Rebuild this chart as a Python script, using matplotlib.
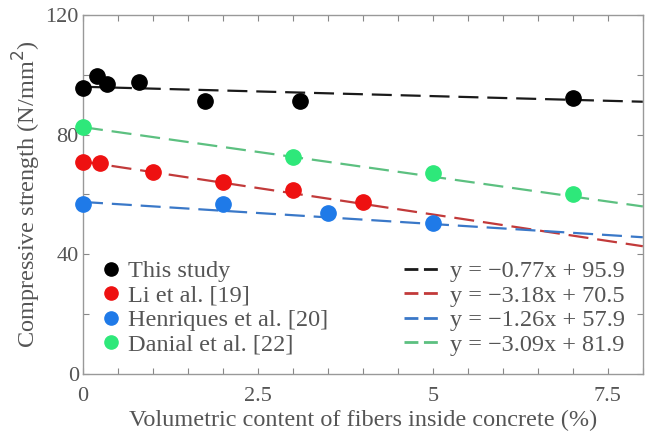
import matplotlib
matplotlib.use("Agg")
import matplotlib.pyplot as plt
from matplotlib.lines import Line2D
import numpy as np

plt.rcParams['font.family'] = ['Liberation Serif', 'DejaVu Serif']

# data
this_x = [0.0, 0.2, 0.35, 0.8, 1.75, 3.1, 7.0]
this_y = [95.5, 99.5, 96.8, 97.5, 91.1, 91.1, 92.1]
li_x = [0.0, 0.25, 1.0, 2.0, 3.0, 4.0]
li_y = [70.9, 70.6, 67.6, 64.2, 61.5, 57.5]
hen_x = [0.0, 2.0, 3.5, 5.0]
hen_y = [56.8, 56.8, 53.8, 50.4]
dan_x = [0.0, 3.0, 5.0, 7.0]
dan_y = [82.7, 72.6, 67.2, 60.2]

# trend lines as drawn (values at x = 0 and x = 8)
fit_x = [0, 8]
fit_this = [96.0, 91.0]
fit_li = [71.0, 42.7]
fit_hen = [57.5, 45.7]
fit_dan = [82.5, 56.0]

labels = ["This study", "Li et al. [19]", "Henriques et al. [20]", "Danial et al. [22]"]
fit_labels = ["y = \u22120.77x + 95.9", "y = \u22123.18x + 70.5",
              "y = \u22121.26x + 57.9", "y = \u22123.09x + 81.9"]

marker_colors = ["#000000", "#ee1111", "#1f7ae8", "#2ee87a"]
line_colors = ["#1a1a1a", "#c23a3a", "#3a78c8", "#5cc080"]
text_c = "#555555"

fig = plt.figure(figsize=(6.51, 4.40), dpi=100)
ax = fig.add_axes([0.1275, 0.15, 0.86, 0.816])

for fy, c in zip([fit_this, fit_li, fit_hen, fit_dan], line_colors):
    ax.plot(fit_x, fy, color=c, lw=1.6, dashes=(9, 4))

for xv, yv, c in zip([this_x, li_x, hen_x, dan_x], [this_y, li_y, hen_y, dan_y], marker_colors):
    ax.plot(xv, yv, 'o', color=c, ms=11, mec=c, clip_on=False, zorder=5)

ax.set_xlim(0, 8)
ax.set_ylim(0, 120)
ax.set_xticks([0, 2.5, 5, 7.5])
ax.set_xticklabels(["0", "2.5", "5", "7.5"])
ax.set_xticks(np.arange(0, 8.01, 0.5), minor=True)
ax.set_yticks([0, 40, 80, 120])
ax.set_yticks([20, 60, 100], minor=True)
ax.tick_params(which='both', direction='in', top=True, right=True,
               colors='#888888', labelcolor=text_c, labelsize=16, length=4, width=0.8)
ax.tick_params(axis='x', pad=9)
ax.tick_params(axis='y', pad=3)
for s in ax.spines.values():
    s.set_color('#999999')
    s.set_linewidth(1.0)

ax.set_xlabel("Volumetric content of fibers inside concrete (%)", fontsize=17.5, color=text_c, labelpad=3)
ax.set_ylabel("Compressive strength (N/mm$^2$)", fontsize=17.5, color=text_c, labelpad=2)

h1 = [Line2D([], [], ls='none', marker='o', color=c, ms=9.5) for c in marker_colors]
leg1 = ax.legend(h1, labels, loc='lower left', bbox_to_anchor=(0.015, 0.024), frameon=False,
                 fontsize=17.5, handlelength=0.8, handletextpad=0.3, labelspacing=0.1,
                 labelcolor=text_c, borderaxespad=0)
ax.add_artist(leg1)

h2 = [Line2D([], [], color=c, lw=2, dashes=(5, 2)) for c in line_colors]
ax.legend(h2, fit_labels, loc='lower right', bbox_to_anchor=(0.985, 0.024), frameon=False,
          fontsize=17.5, handlelength=1.6, handletextpad=0.3, labelspacing=0.1,
          labelcolor=text_c, borderaxespad=0)

fig.savefig("out.png", dpi=100)
